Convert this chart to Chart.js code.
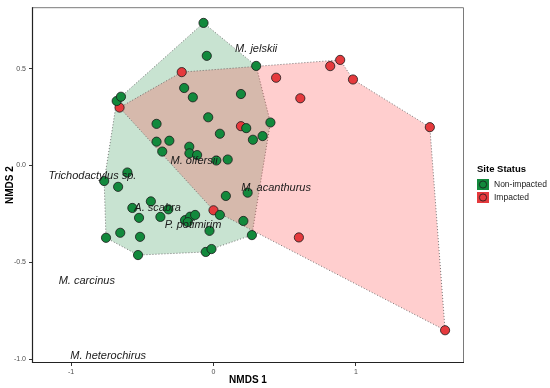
<!DOCTYPE html>
<html>
<head>
<meta charset="utf-8">
<script src="https://cdn.jsdelivr.net/npm/chart.js@4.4.1/dist/chart.umd.min.js"></script>
<style>
  body { margin: 0; background: #fff; }
  #wrap { width: 550px; height: 388px; }
</style>
</head>
<body>
<div id="wrap"><canvas id="nmds-chart"></canvas></div>
<script>
// site scores, non-impacted
var greenX = [-0.07, -0.047, 0.30, -0.68, -0.65, -0.206, -0.145, 0.193, -0.037, -0.40, 0.23, 0.40, 0.045, 0.277, 0.345, -0.40, -0.31, -0.36, -0.17, -0.169, -0.115, 0.02, 0.10, -0.605, -0.768, -0.67, 0.24, 0.087, -0.44, -0.57, -0.317, -0.523, -0.373, -0.2, -0.164, -0.129, -0.18, 0.045, 0.21, -0.028, 0.27, -0.755, -0.655, -0.516, -0.53, -0.054, -0.014];
var greenY = [0.736, 0.566, 0.514, 0.333, 0.355, 0.40, 0.352, 0.369, 0.249, 0.215, 0.193, 0.222, 0.164, 0.133, 0.152, 0.123, 0.128, 0.072, 0.097, 0.063, 0.054, 0.026, 0.031, -0.036, -0.08, -0.11, -0.14, -0.157, -0.185, -0.219, -0.226, -0.27, -0.265, -0.282, -0.264, -0.255, -0.292, -0.255, -0.286, -0.337, -0.359, -0.373, -0.347, -0.368, -0.462, -0.446, -0.431];

// site scores, impacted
var redX = [-0.223, -0.66, 0.193, 0.44, 0.82, 0.89, 0.98, 0.61, 1.52, 0.60, 1.627, 0.0];
var redY = [0.482, 0.299, 0.203, 0.453, 0.513, 0.545, 0.444, 0.347, 0.198, -0.371, -0.85, -0.231];

// convex hulls
var greenHullX = [-0.07, 0.30, 0.40, 0.27, -0.014, -0.054, -0.53, -0.755, -0.768, -0.68, -0.65, -0.07];
var greenHullY = [0.736, 0.514, 0.222, -0.359, -0.431, -0.446, -0.462, -0.373, -0.08, 0.333, 0.355, 0.736];
var redHullX = [-0.223, 0.89, 0.98, 1.52, 1.627, 0.0, -0.66, -0.223];
var redHullY = [0.482, 0.545, 0.444, 0.198, -0.85, -0.231, 0.299, 0.482];

// species scores
var species = ['M. jelskii', 'M. olfersii', 'Trichodactylus sp.', 'M. acanthurus', 'A. scabra', 'P. potimirim', 'M. carcinus', 'M. heterochirus'];
var speciesX = [0.30, -0.136, -0.85, 0.44, -0.393, -0.144, -0.89, -0.74];
var speciesY = [0.603, 0.022, -0.055, -0.115, -0.217, -0.306, -0.593, -0.98];

var xTicks = [-1, 0, 1];
var yTicks = [-1.0, -0.5, 0.0, 0.5];
var groups = ['Non-impacted', 'Impacted'];

function pts(xs, ys) {
    return xs.map(function(x, i) { return {x: x, y: ys[i]}; });
}

const GREEN = '#12893c';
const RED = '#e53a3d';

const labelsPlugin = {
    id: 'speciesLabels',
    afterDatasetsDraw(chart) {
        const ctx = chart.ctx;
        const xs = chart.scales.x, ys = chart.scales.y;
        const a = chart.chartArea;
        ctx.save();
        ctx.font = 'italic 11px "Liberation Sans", Arial, sans-serif';
        ctx.fillStyle = '#1a1a1a';
        ctx.textAlign = 'center';
        ctx.textBaseline = 'middle';
        species.forEach(function(s, i) {
            ctx.fillText(s, xs.getPixelForValue(speciesX[i]), ys.getPixelForValue(speciesY[i]));
        });

        // panel frame: grey top/right, dark left/bottom
        ctx.lineWidth = 1;
        ctx.strokeStyle = '#7a7a7a';
        ctx.beginPath();
        ctx.moveTo(a.left, a.top + 0.5);
        ctx.lineTo(a.right - 0.5, a.top + 0.5);
        ctx.lineTo(a.right - 0.5, a.bottom);
        ctx.stroke();
        ctx.strokeStyle = '#222';
        ctx.lineWidth = 1.2;
        ctx.beginPath();
        ctx.moveTo(a.left + 0.5, a.top);
        ctx.lineTo(a.left + 0.5, a.bottom - 0.5);
        ctx.lineTo(a.right, a.bottom - 0.5);
        ctx.stroke();

        // legend
        const lx = 477, ly = 160;
        ctx.textAlign = 'left';
        ctx.font = 'bold 9.5px "Liberation Sans", Arial, sans-serif';
        ctx.fillStyle = '#000';
        ctx.fillText('Site Status', lx, ly + 9);
        const cols = [GREEN, RED];
        groups.forEach(function(g, i) {
            const ky = ly + 19 + i * 13;
            ctx.fillStyle = cols[i];
            ctx.fillRect(lx, ky, 12, 11);
            ctx.beginPath();
            ctx.arc(lx + 6, ky + 5.5, 3.6, 0, Math.PI * 2);
            ctx.lineWidth = 0.8;
            ctx.strokeStyle = '#1a1a1a';
            ctx.stroke();
            ctx.fillStyle = '#1a1a1a';
            ctx.font = '8.5px "Liberation Sans", Arial, sans-serif';
            ctx.fillText(g, lx + 17, ky + 5.5);
        });
        ctx.restore();
    }
};

var ctx = document.getElementById('nmds-chart').getContext('2d');
var nmdsChart = new Chart(ctx, {
    type: 'scatter',
    data: {
        datasets: [{
            label: 'Non-impacted',
            data: pts(greenX, greenY),
            backgroundColor: GREEN,
            borderColor: '#1a1a1a',
            borderWidth: 0.8,
            pointRadius: 4.6,
            order: 0
        }, {
            label: 'Impacted',
            data: pts(redX, redY),
            backgroundColor: RED,
            borderColor: '#1a1a1a',
            borderWidth: 0.8,
            pointRadius: 4.6,
            order: 1
        }, {
            type: 'line',
            label: 'Impacted hull',
            data: pts(redHullX, redHullY),
            borderColor: '#666',
            borderWidth: 0.9,
            borderDash: [1, 2],
            backgroundColor: 'rgba(255, 60, 60, 0.25)',
            fill: 'shape',
            tension: 0,
            pointRadius: 0,
            order: 2
        }, {
            type: 'line',
            label: 'Non-impacted hull',
            data: pts(greenHullX, greenHullY),
            borderColor: '#666',
            borderWidth: 0.9,
            borderDash: [1, 2],
            backgroundColor: 'rgba(26, 138, 63, 0.24)',
            fill: 'shape',
            tension: 0,
            pointRadius: 0,
            order: 3
        }]
    },
    options: {
        animation: false,
        maintainAspectRatio: false,
        responsive: true,
        layout: {
            padding: {top: 5, right: 86, left: 0, bottom: 0}
        },
        plugins: {
            legend: { display: false },
            tooltip: { enabled: false }
        },
        scales: {
            x: {
                type: 'linear',
                min: -1.275,
                max: 1.76,
                afterBuildTicks: function(scale) {
                    scale.ticks = xTicks.map(function(v) { return {value: v}; });
                },
                afterFit: function(scale) { scale.height = 25; },
                grid: { display: true, drawOnChartArea: false, tickLength: 3, color: '#333' },
                border: { display: false },
                ticks: {
                    color: '#4d4d4d',
                    font: { size: 7, family: '"Liberation Sans", Arial, sans-serif' },
                    padding: 2,
                    maxRotation: 0,
                    callback: function(v) { return String(v); }
                },
                title: {
                    display: true,
                    text: 'NMDS 1',
                    color: '#000',
                    font: { size: 10, weight: 'bold', family: '"Liberation Sans", Arial, sans-serif' },
                    padding: { top: 0, bottom: 2 }
                }
            },
            y: {
                type: 'linear',
                min: -1.019,
                max: 0.817,
                afterBuildTicks: function(scale) {
                    scale.ticks = yTicks.map(function(v) { return {value: v}; });
                },
                afterFit: function(scale) { scale.width = 32; },
                grid: { display: true, drawOnChartArea: false, tickLength: 3, color: '#333' },
                border: { display: false },
                ticks: {
                    color: '#4d4d4d',
                    font: { size: 7, family: '"Liberation Sans", Arial, sans-serif' },
                    padding: 3,
                    callback: function(v) { return v.toFixed(1); }
                },
                title: {
                    display: true,
                    text: 'NMDS 2',
                    color: '#000',
                    font: { size: 10, weight: 'bold', family: '"Liberation Sans", Arial, sans-serif' },
                    padding: { top: 4, bottom: 0 }
                }
            }
        }
    },
    plugins: [labelsPlugin]
});
</script>
</body>
</html>
